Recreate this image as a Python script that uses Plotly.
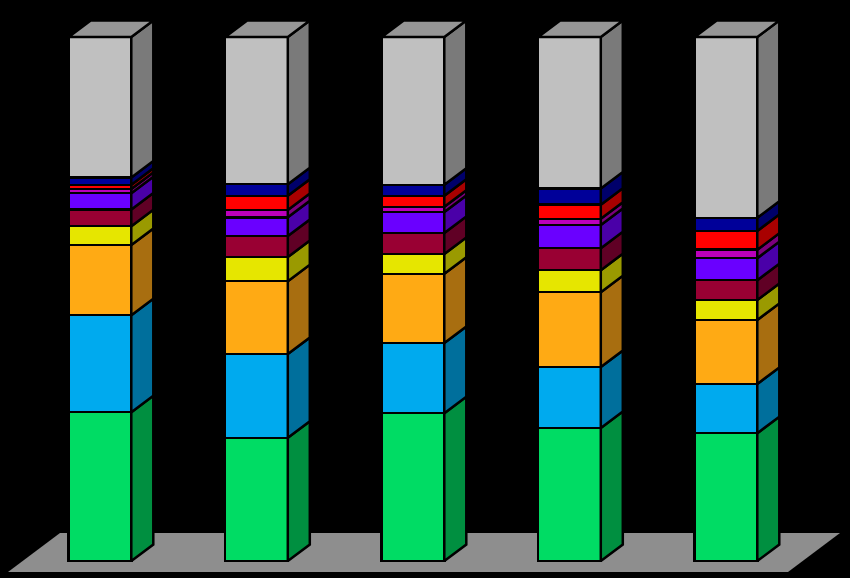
import plotly.graph_objects as go

categories = [0, 1, 2, 3, 4]
green = [28.4, 23.5, 28.2, 25.4, 24.4]
blue = [18.5, 16.0, 13.4, 11.6, 9.4]
orange = [13.4, 13.9, 13.2, 14.3, 12.2]
yellow = [3.6, 4.6, 3.8, 4.2, 3.8]
maroon = [3.2, 4.0, 4.0, 4.2, 3.8]
violet = [3.1, 3.6, 4.0, 4.4, 4.2]
magenta = [0.8, 1.4, 1.0, 1.2, 1.6]
red = [0.8, 2.7, 2.1, 2.7, 3.6]
navy = [1.4, 2.2, 2.1, 3.1, 2.5]
gray = [26.8, 28.1, 28.2, 28.9, 34.5]

series = [green, blue, orange, yellow, maroon, violet, magenta, red, navy, gray]
front = ["#00DC64", "#00AAEE", "#FFAA14", "#E6E600", "#990033",
         "#6A00FF", "#BB00BB", "#FF0000", "#000099", "#C0C0C0"]
side = ["#008F40", "#006F9C", "#A86E10", "#9A9A00", "#600025",
        "#4A00A8", "#7C007C", "#A80000", "#00006A", "#7A7A7A"]
top_color = "#969696"

W, H = 850, 578
PX_PER_CAT = 156.5
PX_PER_UNIT = 5.24
X0_PX, Y0_PX = 100, 561
BAR_PX = 62.6
DX = 22 / PX_PER_CAT
DY = 16.5 / PX_PER_UNIT
BW = BAR_PX / PX_PER_CAT


def xv(px):
    return (px - X0_PX) / PX_PER_CAT


def yv(px):
    return (Y0_PX - px) / PX_PER_UNIT


fig = go.Figure()
for vals, c in zip(series, front):
    fig.add_trace(go.Bar(x=categories, y=vals, width=BW, marker=dict(color=c, line=dict(color="black", width=2.5)),
                         hoverinfo="skip", showlegend=False))

edge = dict(color="black", width=2.5)
for i, cat in enumerate(categories):
    base = 0.0
    r = cat + BW / 2
    for vals, c in zip(series, side):
        t = base + vals[i]
        fig.add_trace(go.Scatter(
            x=[r, r + DX, r + DX, r, r], y=[base, base + DY, t + DY, t, base],
            mode="lines", fill="toself", fillcolor=c, line=edge,
            hoverinfo="skip", showlegend=False))
        base = t
    l = cat - BW / 2
    fig.add_trace(go.Scatter(
        x=[l, r, r + DX, l + DX, l], y=[base, base, base + DY, base + DY, base],
        mode="lines", fill="toself", fillcolor=top_color, line=edge,
        hoverinfo="skip", showlegend=False))

floor_px = [(8, 572), (788, 572), (840, 533), (60, 533)]
path = "M " + " L ".join(f"{xv(a)} {yv(b)}" for a, b in floor_px) + " Z"
fig.add_shape(type="path", path=path, layer="below", fillcolor="#8E8E8E",
              line=dict(color="#8E8E8E", width=0))

fig.update_layout(
    barmode="stack", width=W, height=H, margin=dict(l=0, r=0, t=0, b=0),
    paper_bgcolor="black", plot_bgcolor="black", showlegend=False,
    xaxis=dict(range=[xv(0), xv(W)], visible=False, fixedrange=True),
    yaxis=dict(range=[yv(H), yv(0)], visible=False, fixedrange=True),
)
fig.write_html("out.html", config={"displayModeBar": False}, default_width=W, default_height=H,
               post_script="document.body.style.margin='0';document.body.style.background='black';document.body.style.overflow='hidden';")
